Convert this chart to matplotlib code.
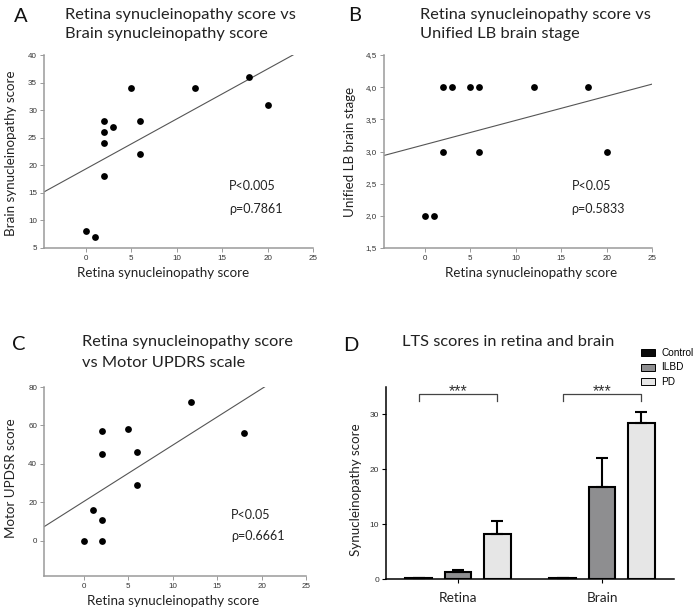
import numpy as np
import matplotlib.pyplot as plt
from matplotlib.patches import Patch

plt.rcParams['font.family'] = ['Lato', 'DejaVu Sans']

# panel A / B / C scatter data
retina_a = [0, 1, 2, 2, 2, 2, 3, 5, 6, 6, 12, 18, 20]
brain_a = [8, 7, 28, 26, 24, 18, 27, 34, 28, 22, 34, 36, 31]
retina_b = [0, 1, 2, 3, 5, 6, 12, 18, 2, 6, 20]
stage_b = [2, 2, 4, 4, 4, 4, 4, 4, 3, 3, 3]
retina_c = [0, 2, 2, 1, 2, 2, 5, 6, 6, 12, 18]
updrs_c = [0, 0, 11, 16, 45, 57, 58, 46, 29, 72, 56]

x_ticks = [0, 5, 10, 15, 20, 25]
a_yticks = [5, 10, 15, 20, 25, 30, 35, 40]
b_yticks = [1.5, 2.0, 2.5, 3.0, 3.5, 4.0, 4.5]
b_yticklabels = ['1,5', '2,0', '2,5', '3,0', '3,5', '4,0', '4,5']
c_yticks = [0, 20, 40, 60, 80]

# panel D bar data
groups = ['Retina', 'Brain']
conditions = ['Control', 'ILBD', 'PD']
means = {'Control': [0.15, 0.15], 'ILBD': [1.2, 16.8], 'PD': [8.2, 28.4]}
sems = {'Control': [0, 0], 'ILBD': [0.45, 5.3], 'PD': [2.3, 2.0]}
bar_colors = ['#0a0a0a', '#8e8e90', '#e6e6e6']
d_yticks = [0, 10, 20, 30]

W, H = 698, 614
fig = plt.figure(figsize=(W / 100, H / 100), dpi=100)


def px(l, t, r, b):
    return [l / W, 1 - b / H, (r - l) / W, (b - t) / H]


gray = '#9a9a9a'


def scatter_panel(ax, x, y, xlim, ylim, yticks, yticklabels=None):
    ax.plot(x, y, 'o', color='black', ms=4.9, mew=0, zorder=3)
    k, b = np.polyfit(x, y, 1)
    xs = np.array(xlim)
    ax.plot(xs, k * xs + b, color='#555555', lw=0.8)
    ax.set_xlim(xlim)
    ax.set_ylim(ylim)
    ax.set_xticks(x_ticks)
    ax.set_yticks(yticks)
    if yticklabels is not None:
        ax.set_yticklabels(yticklabels)
    for s in ['top', 'right']:
        ax.spines[s].set_visible(False)
    for s in ['left', 'bottom']:
        ax.spines[s].set_color(gray)
        ax.spines[s].set_linewidth(1.1)
    ax.tick_params(length=3, width=0.7, color=gray, labelsize=5.8,
                   labelcolor='#333333', pad=2)
    for lbl in ax.get_xticklabels() + ax.get_yticklabels():
        lbl.set_fontfamily('Liberation Sans')


xlab = 'Retina synucleinopathy score'
lab_fs = 9.6
p_fs = 9

# A
axA = fig.add_axes(px(44, 55, 313, 248))
scatter_panel(axA, retina_a, brain_a, (-4.6, 25), (5, 40), a_yticks)
axA.set_xlabel(xlab, fontsize=lab_fs, va='baseline', color='#222')
axA.xaxis.set_label_coords(0.442, (248 - 277) / 193)
axA.set_ylabel('Brain synucleinopathy score', fontsize=lab_fs, va='center', color='#222')
axA.yaxis.set_label_coords((11 - 44) / 269, 0.49)
axA.text(0.688, 0.30, 'P<0.005', transform=axA.transAxes, fontsize=p_fs, color='#222')
axA.text(0.688, 0.18, 'ρ=0.7861', transform=axA.transAxes, fontsize=p_fs, color='#222')

# B
axB = fig.add_axes(px(384, 55, 652, 248))
scatter_panel(axB, retina_b, stage_b, (-4.5, 25), (1.5, 4.5), b_yticks, b_yticklabels)
axB.set_xlabel(xlab, fontsize=lab_fs, va='baseline', color='#222')
axB.xaxis.set_label_coords(0.549, (248 - 277) / 193)
axB.set_ylabel('Unified LB brain stage', fontsize=lab_fs, va='center', color='#222')
axB.yaxis.set_label_coords((350 - 384) / 268, 0.5)
axB.text(0.70, 0.30, 'P<0.05', transform=axB.transAxes, fontsize=p_fs, color='#222')
axB.text(0.70, 0.18, 'ρ=0.5833', transform=axB.transAxes, fontsize=p_fs, color='#222')

# C
axC = fig.add_axes(px(44, 387, 306, 576))
scatter_panel(axC, retina_c, updrs_c, (-4.5, 25), (-18.2, 80), c_yticks)
axC.set_xlabel(xlab, fontsize=lab_fs, va='baseline', color='#222')
axC.xaxis.set_label_coords(0.492, (576 - 605) / 189)
axC.set_ylabel('Motor UPDSR score', fontsize=lab_fs, va='center', color='#222')
axC.yaxis.set_label_coords((11 - 44) / 262, 0.519)
axC.text(0.714, 0.30, 'P<0.05', transform=axC.transAxes, fontsize=p_fs, color='#222')
axC.text(0.714, 0.19, 'ρ=0.6661', transform=axC.transAxes, fontsize=p_fs, color='#222')

# D
axD = fig.add_axes(px(386, 387, 674, 579))
gx = np.arange(len(groups))
offsets = [-0.274, 0, 0.274]
for cond, off, col in zip(conditions, offsets, bar_colors):
    axD.bar(gx + off, means[cond], width=0.185, color=col, edgecolor='black',
            lw=1.5, yerr=[np.zeros(len(groups)), sems[cond]], capsize=4.6,
            error_kw=dict(elinewidth=1.5, capthick=1.5, ecolor='black'),
            zorder=2, label=cond)
axD.set_xlim(-0.5, 1.5)
axD.set_ylim(0, 35)
axD.set_yticks(d_yticks)
axD.set_xticks(gx)
axD.set_xticklabels(groups, fontsize=9.8, color='#222')
for s in ['top', 'right']:
    axD.spines[s].set_visible(False)
for s in ['left', 'bottom']:
    axD.spines[s].set_linewidth(1.1)
axD.tick_params(length=3, width=0.8, pad=2)
axD.tick_params(axis='y', labelsize=6, labelcolor='#333333')
axD.tick_params(axis='x', pad=6)
for lbl in axD.get_yticklabels():
    lbl.set_fontfamily('Liberation Sans')
axD.set_ylabel('Synucleinopathy score', fontsize=lab_fs, va='center', color='#222')
axD.yaxis.set_label_coords((356 - 386) / 288, 0.466)

# significance brackets Control vs PD
br_top, br_drop = 33.8, 32.5
for g in gx:
    axD.plot([g - 0.27, g - 0.27, g + 0.27, g + 0.27], [br_drop, br_top, br_top, br_drop],
             color='#444444', lw=0.9, clip_on=False)
    axD.text(g, br_top - 0.5, '***', ha='center', va='baseline', fontsize=11.5,
             family='Liberation Sans', color='#333', clip_on=False)

handles = [Patch(facecolor=c, edgecolor='black', lw=0.7, label=l)
           for c, l in zip(bar_colors, conditions)]
axD.legend(handles=handles, loc='upper left', bbox_to_anchor=(641 / W, 1 - 348 / H),
           bbox_transform=fig.transFigure, frameon=False,
           prop={'family': 'Liberation Sans', 'size': 7.2},
           handlelength=1.4, handleheight=0.7, handletextpad=0.6,
           labelspacing=0.45, borderpad=0, borderaxespad=0)

# titles and panel letters
title_fs = 11.8
titles = [
    (65, [19, 38], ['Retina synucleinopathy score vs', 'Brain synucleinopathy score']),
    (420, [19, 38], ['Retina synucleinopathy score vs', 'Unified LB brain stage']),
    (82, [346, 367], ['Retina synucleinopathy score', 'vs Motor UPDRS scale']),
    (402, [346], ['LTS scores in retina and brain']),
]
for x, ys, lines in titles:
    for y, line in zip(ys, lines):
        fig.text(x / W, 1 - y / H, line, fontsize=title_fs, va='baseline', color='#222')

letters = [('A', 14, 22), ('B', 348, 21), ('C', 12, 350), ('D', 343, 351)]
for s, x, y in letters:
    fig.text(x / W, 1 - y / H, s, fontsize=14.5, va='baseline', color='#111')

fig.savefig('out.png', dpi=100)
